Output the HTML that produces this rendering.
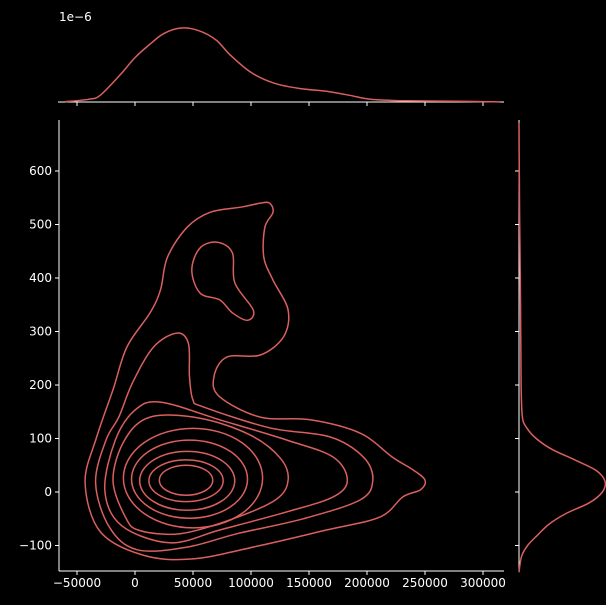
<!DOCTYPE html>
<html><head><meta charset="utf-8"><style>
html,body{margin:0;padding:0;background:#000;}
svg{display:block;font-family:"DejaVu Sans","Liberation Sans",sans-serif;}
</style></head><body>
<svg id="chart" width="606" height="605" viewBox="0 0 606 605"></svg>
<script>
// x in thousands, y in data units
const xTicks=[-50000,0,50000,100000,150000,200000,250000,300000];
const yTicks=[-100,0,100,200,300,400,500,600];
const contourOuterX=[116,119,112,111,119,132,128,108,79,68,73,108,151,194,222,240,250,246,231,211,165,108,50,7,-30,-43,-33,-19,-7,13,22,28,45,65,93,108];
const contourOuterY=[540,523,495,439,396,340,290,256,252,215,178,140,135,110,65,41,22,4,-9,-47,-71,-100,-125,-118,-74,17,103,191,271,335,378,439,495,523,533,540];
const contourIslandX=[71,84,86,102,97,84,73,56,49,56];
const contourIslandY=[467,447,391,340,321,335,359,372,415,456];
const contour2X=[36,46,47,50,59,116,168,197,205,194,145,88,45,2,-22,-34,-25,-14,-2,16];
const contour2Y=[297,278,215,172,159,120,103,65,22,-15,-50,-78,-103,-108,-66,17,97,140,205,271];
const contour3X=[22,73,131,171,183,171,131,73,30,-12,-26,-17,0];
const contour3Y=[168,135,97,65,22,-9,-37,-71,-95,-62,4,97,153];
const contour4X=[13,56,99,125,132,121,82,39,4,-8,-19,-9];
const contour4Y=[140,138,107,64,22,-15,-52,-78,-72,-48,22,97];
const ellCx=[50,47,45,44,44];
const ellCy=[26,24,21,21,22];
const ellRx=[60,50,41,32,23];
const ellRy=[93,73,55,39,28];
const topX=[-60,-40,-30,-13,0,13,25,40,55,70,82,100,120,142,165,185,203,230,260,300,315];
const topD=[0.02,0.2,0.5,2.0,3.3,4.3,5.1,5.5,5.3,4.6,3.5,2.2,1.4,1.0,0.8,0.5,0.2,0.1,0.07,0.03,0.01];
const rightY=[-150,-120,-100,-80,-60,-40,-20,0,20,40,60,80,100,120,140,200,300,400,500,600,690];
const rightD=[0,0.03,0.1,0.22,0.35,0.55,0.82,0.97,1.0,0.9,0.65,0.38,0.2,0.09,0.04,0.025,0.02,0.015,0.008,0.003,0];

const svg=document.getElementById('chart');
const NS='http://www.w3.org/2000/svg';
const C='#d9605f';
const X0=59,X1=504,Y0=120,Y1=571;
const sx=v=>135+v*116/100000;
const sxk=v=>sx(v*1000);
const sy=v=>492-v*53.5/100;
const topY=d=>102-d*74/5.5;
const rightX=d=>519+d*86;
function el(tag,attrs,parent){const e=document.createElementNS(NS,tag);for(const k in attrs)e.setAttribute(k,attrs[k]);(parent||svg).appendChild(e);return e;}
function smoothClosed(pts){
 const n=pts.length;let d='M'+pts[0][0].toFixed(1)+','+pts[0][1].toFixed(1);
 for(let i=0;i<n;i++){const p0=pts[(i-1+n)%n],p1=pts[i],p2=pts[(i+1)%n],p3=pts[(i+2)%n];
  d+='C'+(p1[0]+(p2[0]-p0[0])/6).toFixed(1)+','+(p1[1]+(p2[1]-p0[1])/6).toFixed(1)+' '+(p2[0]-(p3[0]-p1[0])/6).toFixed(1)+','+(p2[1]-(p3[1]-p1[1])/6).toFixed(1)+' '+p2[0].toFixed(1)+','+p2[1].toFixed(1);}
 return d+'Z';}
function smoothOpen(pts){
 const n=pts.length;let d='M'+pts[0][0].toFixed(1)+','+pts[0][1].toFixed(1);
 for(let i=0;i<n-1;i++){const p0=pts[Math.max(i-1,0)],p1=pts[i],p2=pts[i+1],p3=pts[Math.min(i+2,n-1)];
  d+='C'+(p1[0]+(p2[0]-p0[0])/6).toFixed(1)+','+(p1[1]+(p2[1]-p0[1])/6).toFixed(1)+' '+(p2[0]-(p3[0]-p1[0])/6).toFixed(1)+','+(p2[1]-(p3[1]-p1[1])/6).toFixed(1)+' '+p2[0].toFixed(1)+','+p2[1].toFixed(1);}
 return d;}

let a;
a=el('line',{x1:X0,y1:Y0,x2:X0,y2:Y1,stroke:'#fff','stroke-width':1});

a=el('line',{x1:X0,y1:Y1,x2:X1,y2:Y1,stroke:'#fff','stroke-width':1});

xTicks.forEach(t=>{const x=sx(t);
 let l=el('line',{x1:x,y1:Y1,x2:x,y2:Y1+4,stroke:'#fff'});
 
 let tx=el('text',{x:x,y:Y1+16,fill:'#fff','font-size':12,'text-anchor':'middle'});tx.textContent=String(t).replace('-','\u2212');
 
 let l2=el('line',{x1:x,y1:102,x2:x,y2:106,stroke:'#fff'});
 
});
yTicks.forEach(t=>{const y=sy(t);
 let l=el('line',{x1:X0-4,y1:y,x2:X0,y2:y,stroke:'#fff'});
 
 let tx=el('text',{x:X0-7,y:y+4,fill:'#fff','font-size':12,'text-anchor':'end'});tx.textContent=String(t).replace('-','\u2212');
 
 let l2=el('line',{x1:515,y1:y,x2:519,y2:y,stroke:'#fff'});
 
});
a=el('line',{x1:58,y1:102,x2:X1,y2:102,stroke:'#fff'});

a=el('line',{x1:519,y1:Y0,x2:519,y2:Y1,stroke:'#fff'});

a=el('text',{x:59,y:21,fill:'#fff','font-size':12});a.textContent='1e\u22126';


function drawContour(xs,ys,name){const pts=xs.map((v,i)=>[sxk(v),sy(ys[i])]);
 const p=el('path',{d:smoothClosed(pts),fill:'none',stroke:C,'stroke-width':1.5});
 }
drawContour(contourOuterX,contourOuterY,'contour-level-1');
drawContour(contourIslandX,contourIslandY,'contour-level-2-island');
drawContour(contour2X,contour2Y,'contour-level-2');
drawContour(contour3X,contour3Y,'contour-level-3');
drawContour(contour4X,contour4Y,'contour-level-4');
ellCx.forEach((c,i)=>{
 const e=el('ellipse',{cx:sxk(c),cy:sy(ellCy[i]),rx:sxk(c+ellRx[i])-sxk(c),ry:sy(0)-sy(ellRy[i]),fill:'none',stroke:C,'stroke-width':1.5});
 
 
});
let tp=el('path',{d:smoothOpen(topX.map((v,i)=>[sxk(v),topY(topD[i])])),fill:'none',stroke:C,'stroke-width':1.5});

let rp=el('path',{d:smoothOpen(rightY.map((v,i)=>[rightX(rightD[i]),sy(v)])),fill:'none',stroke:C,'stroke-width':1.5});

</script>
</body></html>
